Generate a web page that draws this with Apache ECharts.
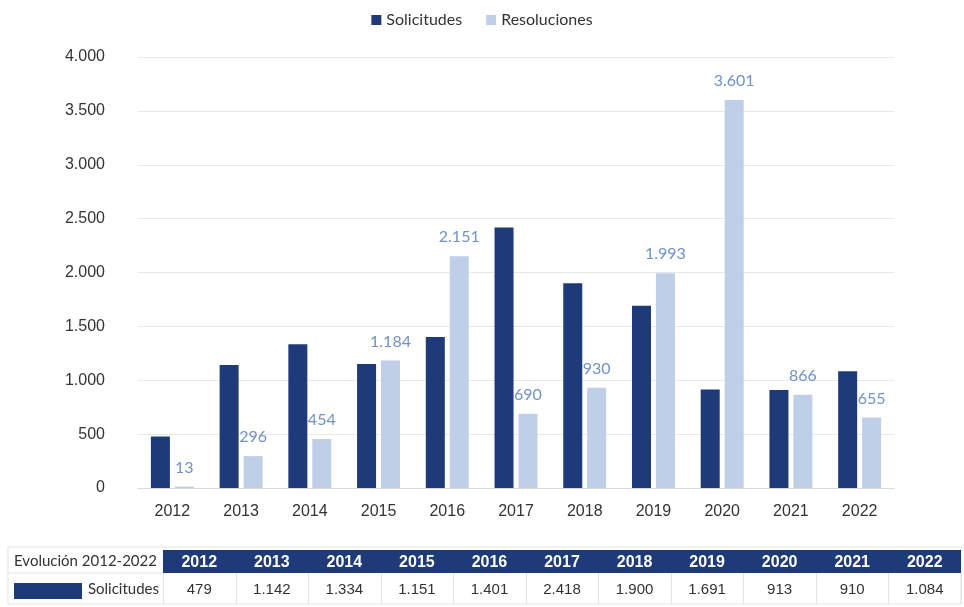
<!DOCTYPE html>
<html>
<head>
<meta charset="utf-8">
<style>
  html, body { margin: 0; padding: 0; background: #ffffff; }
  #chart { width: 964px; height: 607px; }
</style>
<script src="https://cdn.jsdelivr.net/npm/echarts@6/dist/echarts.min.js"></script>
</head>
<body>
<div id="chart"></div>
<script>
// Años de la serie
const years = ['2012','2013','2014','2015','2016','2017','2018','2019','2020','2021','2022'];
// Solicitudes por año
const solicitudes = [479, 1142, 1334, 1151, 1401, 2418, 1900, 1691, 913, 910, 1084];
// Resoluciones por año
const resoluciones = [13, 296, 454, 1184, 2151, 690, 930, 1993, 3601, 866, 655];
// Marcas del eje vertical
const yTicks = [0, 500, 1000, 1500, 2000, 2500, 3000, 3500, 4000];
const tableTitle = 'Evolución 2012-2022';

const DARK = '#1f3a78';
const LIGHT = '#bfcfe7';
const LABEL = '#7092c8';

// Separador de miles con punto
function fmt(v) {
  return String(Math.round(v)).replace(/\B(?=(\d{3})+(?!\d))/g, '.');
}

// Tabla inferior: cabecera con años y fila de solicitudes
const tbl = { left: 8, right: 961, firstCol: 163, top: 550, mid: 573, bottom: 604 };
const colW = (tbl.right - tbl.firstCol) / years.length;
const graphics = [];
graphics.push({
  type: 'rect', shape: { x: tbl.left, y: tbl.top - 3, width: tbl.right - tbl.left, height: tbl.bottom - tbl.top + 3 },
  style: { fill: '#ffffff', stroke: '#e3e3e3', lineWidth: 1 }, z: 1
});
graphics.push({
  type: 'rect', shape: { x: tbl.firstCol, y: tbl.top, width: tbl.right - tbl.firstCol, height: tbl.mid - tbl.top },
  style: { fill: DARK }, z: 2
});
graphics.push({
  type: 'line', shape: { x1: tbl.left, y1: tbl.mid, x2: tbl.firstCol, y2: tbl.mid },
  style: { stroke: '#e3e3e3', lineWidth: 1 }, z: 2
});
graphics.push({
  type: 'text', x: (tbl.left + tbl.firstCol) / 2, y: (tbl.top + tbl.mid) / 2,
  style: { text: tableTitle, fill: '#333333', font: '15px Lato, "Open Sans", sans-serif', align: 'center', verticalAlign: 'middle' }, z: 3
});
graphics.push({
  type: 'rect', shape: { x: 14, y: 583, width: 68, height: 16 },
  style: { fill: DARK }, z: 3
});
graphics.push({
  type: 'text', x: tbl.firstCol - 4, y: (tbl.mid + tbl.bottom) / 2 + 1,
  style: { text: 'Solicitudes', fill: '#333333', font: '15px Lato, "Open Sans", sans-serif', align: 'right', verticalAlign: 'middle' }, z: 3
});
for (let i = 0; i <= years.length; i++) {
  const x = Math.round(tbl.firstCol + i * colW) + 0.5;
  graphics.push({
    type: 'line', shape: { x1: x, y1: tbl.mid, x2: x, y2: tbl.bottom },
    style: { stroke: '#e3e3e3', lineWidth: 1 }, z: 2
  });
}
years.forEach(function (y, i) {
  const cx = tbl.firstCol + (i + 0.5) * colW;
  graphics.push({
    type: 'text', x: cx, y: (tbl.top + tbl.mid) / 2 + 1,
    style: { text: y, fill: '#ffffff', font: 'bold 16px "Liberation Sans", Arial, sans-serif', align: 'center', verticalAlign: 'middle' }, z: 3
  });
  graphics.push({
    type: 'text', x: cx, y: (tbl.mid + tbl.bottom) / 2 + 1,
    style: { text: fmt(solicitudes[i]), fill: '#333333', font: '15px "Liberation Sans", Arial, sans-serif', align: 'center', verticalAlign: 'middle' }, z: 3
  });
});

const chart = echarts.init(document.getElementById('chart'), null, { renderer: 'canvas' });
chart.setOption({
  animation: false,
  backgroundColor: '#ffffff',
  legend: {
    top: 7,
    left: 'center',
    itemWidth: 10,
    itemHeight: 10,
    itemGap: 24,
    icon: 'rect',
    textStyle: { fontFamily: 'Lato, "Open Sans", sans-serif', fontSize: 16, color: '#333333' },
    data: ['Solicitudes', 'Resoluciones']
  },
  grid: { left: 138, right: 70, top: 57, bottom: 119, containLabel: false },
  xAxis: {
    type: 'category',
    data: years,
    axisTick: { show: false },
    axisLine: { lineStyle: { color: '#d9d9d9' } },
    axisLabel: { color: '#333333', fontSize: 16, fontFamily: '"Liberation Sans", Arial, sans-serif', margin: 16 }
  },
  yAxis: {
    type: 'value',
    min: yTicks[0],
    max: yTicks[yTicks.length - 1],
    interval: yTicks[1] - yTicks[0],
    axisLine: { show: false },
    axisTick: { show: false },
    splitLine: { lineStyle: { color: '#e8e8e8' } },
    axisLabel: { color: '#333333', fontSize: 16, fontFamily: '"Liberation Sans", Arial, sans-serif', margin: 33, formatter: fmt }
  },
  series: [
    {
      name: 'Solicitudes', type: 'bar', data: solicitudes,
      barWidth: 19, barGap: '26%',
      itemStyle: { color: DARK }
    },
    {
      name: 'Resoluciones', type: 'bar', data: resoluciones,
      barWidth: 19,
      itemStyle: { color: LIGHT },
      label: {
        show: true, position: 'top', distance: 11,
        color: LABEL, fontSize: 16, fontFamily: 'Lato, "Open Sans", sans-serif',
        formatter: function (p) { return fmt(p.value); }
      }
    }
  ],
  graphic: graphics
});
</script>
</body>
</html>
